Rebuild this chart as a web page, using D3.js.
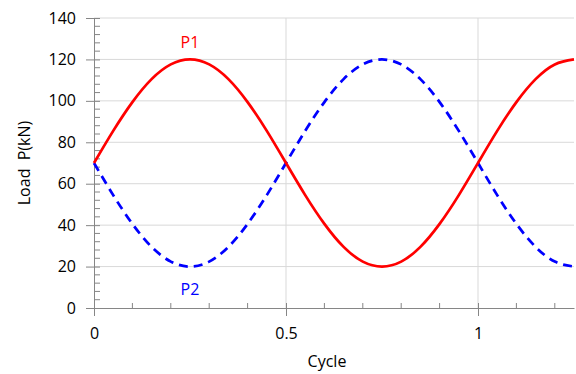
<!DOCTYPE html>
<html>
<head>
<meta charset="utf-8">
<script src="https://cdn.jsdelivr.net/npm/d3@7"></script>
<style>
  body { margin: 0; background: #fff; }
  text { font-family: "Open Sans", "Noto Sans", sans-serif; }
</style>
</head>
<body>
<script>
// values, one every 0.05 cycle
const cycle = [0, 0.05, 0.1, 0.15, 0.2, 0.25, 0.3, 0.35, 0.4, 0.45, 0.5, 0.55, 0.6,
               0.65, 0.7, 0.75, 0.8, 0.85, 0.9, 0.95, 1, 1.05, 1.1, 1.15, 1.2, 1.25];
const p1 = [70, 85.5, 99.4, 110.5, 117.6, 120, 117.6, 110.5, 99.4, 85.5, 70, 54.5, 40.6,
            29.5, 22.4, 20, 22.4, 29.5, 40.6, 54.5, 70, 85.5, 99.4, 110.5, 117.6, 120];
const p2 = [70, 54.5, 40.6, 29.5, 22.4, 20, 22.4, 29.5, 40.6, 54.5, 70, 85.5, 99.4,
            110.5, 117.6, 120, 117.6, 110.5, 99.4, 85.5, 70, 54.5, 40.6, 29.5, 22.4, 20];
const xTicks = [0, 0.5, 1];
const yTicks = [0, 20, 40, 60, 80, 100, 120, 140];

const width = 576, height = 374;
const margin = { top: 18, right: 2, bottom: 66, left: 94 };

const x = d3.scaleLinear().domain([0, 1.25]).range([margin.left, width - margin.right]);
const y = d3.scaleLinear().domain([0, 140]).range([height - margin.bottom, margin.top]);

const svg = d3.select("body").append("svg")
    .attr("width", width)
    .attr("height", height);

// grid
svg.append("g")
    .selectAll("line")
    .data(yTicks.filter(d => d > 0))
    .join("line")
    .attr("x1", x(0)).attr("x2", x(1.25))
    .attr("y1", d => y(d)).attr("y2", d => y(d))
    .attr("stroke", "#d9d9d9");

svg.append("g")
    .selectAll("line")
    .data(xTicks.filter(d => d > 0))
    .join("line")
    .attr("x1", d => x(d)).attr("x2", d => x(d))
    .attr("y1", y(0)).attr("y2", y(140))
    .attr("stroke", "#d9d9d9");

// minor ticks (inside)
const axisColor = "#868686";
svg.append("g")
    .selectAll("line")
    .data(d3.range(0, 141, 4).filter(d => d % 20 !== 0))
    .join("line")
    .attr("x1", x(0)).attr("x2", x(0) + 6)
    .attr("y1", d => y(d)).attr("y2", d => y(d))
    .attr("stroke", axisColor);

svg.append("g")
    .selectAll("line")
    .data(d3.range(1, 13).map(d => d / 10).filter(d => Math.abs(d * 2 - Math.round(d * 2)) > 1e-6))
    .join("line")
    .attr("x1", d => x(d)).attr("x2", d => x(d))
    .attr("y1", y(0)).attr("y2", y(0) - 5)
    .attr("stroke", axisColor);

// axes
const yAxis = svg.append("g")
    .attr("transform", `translate(${x(0)},0)`)
    .call(d3.axisLeft(y).tickValues(yTicks).tickSizeInner(8).tickSizeOuter(0).tickPadding(10));
const xAxis = svg.append("g")
    .attr("transform", `translate(0,${y(0)})`)
    .call(d3.axisBottom(x).tickValues(xTicks).tickFormat(d3.format("")).tickSizeInner(8).tickSizeOuter(0).tickPadding(12));

[yAxis, xAxis].forEach(a => {
    a.select(".domain").attr("stroke", axisColor);
    a.selectAll(".tick line").attr("stroke", axisColor);
    a.selectAll(".tick text").attr("font-size", 16).attr("fill", "#000")
        .style("font-family", "'Open Sans', sans-serif");
});
// major ticks cross the axis
yAxis.selectAll(".tick line").attr("x2", 6).attr("x1", -8);
xAxis.selectAll(".tick line").attr("y1", -5).attr("y2", 8);

// series
const line = d3.line()
    .x((d, i) => x(cycle[i]))
    .y(d => y(d))
    .curve(d3.curveNatural);

svg.append("path")
    .attr("d", line(p2))
    .attr("fill", "none")
    .attr("stroke", "#0000ff")
    .attr("stroke-width", 2.75)
    .attr("stroke-dasharray", "9,6");

svg.append("path")
    .attr("d", line(p1))
    .attr("fill", "none")
    .attr("stroke", "#ff0000")
    .attr("stroke-width", 2.75);

// labels
svg.append("text")
    .attr("x", x(0.25)).attr("y", y(120) - 11)
    .attr("text-anchor", "middle")
    .attr("font-size", 16)
    .attr("fill", "#ff0000")
    .text("P1");

svg.append("text")
    .attr("x", x(0.25)).attr("y", y(20) + 28)
    .attr("text-anchor", "middle")
    .attr("font-size", 16)
    .attr("fill", "#0000ff")
    .text("P2");

svg.append("text")
    .attr("x", (x(0) + x(1.25)) / 2 - 7)
    .attr("y", height - 7)
    .attr("text-anchor", "middle")
    .attr("font-size", 16)
    .text("Cycle");

svg.append("text")
    .attr("transform", `translate(30,${(y(0) + y(140)) / 2}) rotate(-90)`)
    .attr("text-anchor", "middle")
    .attr("font-size", 16)
    .attr("xml:space", "preserve")
    .text("Load  P(kN)");
</script>
</body>
</html>
